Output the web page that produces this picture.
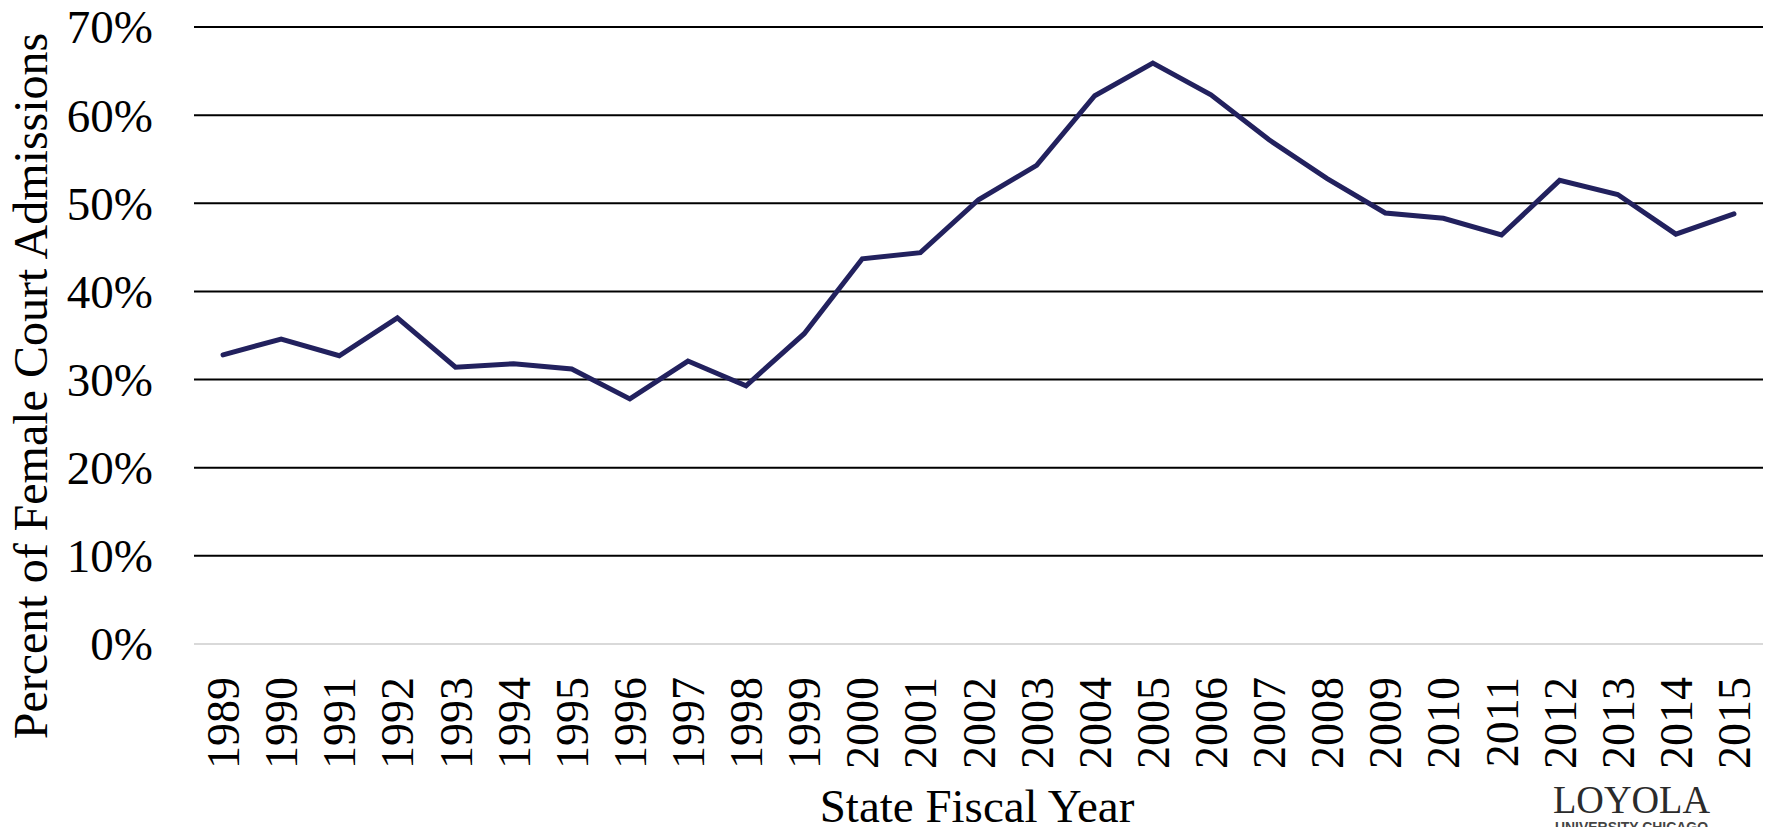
<!DOCTYPE html>
<html lang="en">
  <head>
    <meta charset="UTF-8" />
    <script src="https://cdn.jsdelivr.net/npm/d3@7"></script>
    <style>
      html, body { margin: 0; padding: 0; background: #fff; overflow: hidden; }
      text { font-family: "Liberation Serif", "Times New Roman", serif; fill: #000; }
    </style>
  </head>
  <body>
    <div id="fig"></div>
    <script>
      const width = 1769;
      const height = 827;

      // data
      const years = [1989, 1990, 1991, 1992, 1993, 1994, 1995, 1996, 1997, 1998, 1999, 2000, 2001, 2002,
        2003, 2004, 2005, 2006, 2007, 2008, 2009, 2010, 2011, 2012, 2013, 2014, 2015];
      const femaleShare = [0.328, 0.346, 0.327, 0.370, 0.314, 0.318, 0.312, 0.278, 0.321, 0.293, 0.352,
        0.437, 0.444, 0.504, 0.543, 0.622, 0.659, 0.623, 0.572, 0.528, 0.489, 0.483, 0.464, 0.526,
        0.510, 0.465, 0.488];
      const yTicks = [0, 0.1, 0.2, 0.3, 0.4, 0.5, 0.6, 0.7];

      const margins = { top: 27, bottom: 183, left: 194, right: 6 };

      const svg = d3
        .select("#fig")
        .append("svg")
        .attr("width", width)
        .attr("height", height);

      const x = d3
        .scaleBand()
        .domain(years)
        .range([margins.left, width - margins.right])
        .padding(0);

      const y = d3
        .scaleLinear()
        .domain([0, 0.7])
        .range([height - margins.bottom, margins.top]);

      // gridlines (0% is the light grey axis line)
      svg
        .append("g")
        .selectAll("line")
        .data(yTicks)
        .join("line")
        .attr("x1", x.range()[0])
        .attr("x2", x.range()[1])
        .attr("y1", (d) => y(d))
        .attr("y2", (d) => y(d))
        .attr("stroke", (d) => (d === 0 ? "#d9d9d9" : "#000"))
        .attr("stroke-width", 2);

      // y tick labels
      svg
        .append("g")
        .selectAll("text")
        .data(yTicks)
        .join("text")
        .attr("x", 153)
        .attr("y", (d) => y(d))
        .attr("dy", "0.35em")
        .attr("text-anchor", "end")
        .style("font-size", "47px")
        .text((d) => d3.format(".0%")(d));

      // x tick labels, rotated
      svg
        .append("g")
        .selectAll("text")
        .data(years)
        .join("text")
        .attr("transform", (d) => `translate(${x(d) + x.bandwidth() / 2},${y(0) + 33}) rotate(-90)`)
        .attr("dy", "0.35em")
        .attr("text-anchor", "end")
        .style("font-size", "46px")
        .text((d) => d);

      // series line
      svg
        .append("path")
        .datum(years.map((yr, i) => [yr, femaleShare[i]]))
        .attr("fill", "none")
        .attr("stroke", "#22215e")
        .attr("stroke-width", 5)
        .attr("stroke-linejoin", "miter")
        .attr("stroke-linecap", "round")
        .attr(
          "d",
          d3
            .line()
            .x((d) => x(d[0]) + x.bandwidth() / 2)
            .y((d) => y(d[1]))
        );

      // axis titles
      svg
        .append("text")
        .attr("transform", `translate(47,${386}) rotate(-90)`)
        .attr("text-anchor", "middle")
        .style("font-size", "48px")
        .text("Percent of Female Court Admissions");

      svg
        .append("text")
        .attr("x", 977)
        .attr("y", 822)
        .attr("text-anchor", "middle")
        .style("font-size", "47px")
        .text("State Fiscal Year");

      // logo
      svg
        .append("text")
        .attr("x", 1553)
        .attr("y", 813)
        .attr("textLength", 157)
        .attr("lengthAdjust", "spacingAndGlyphs")
        .style("font-size", "40px")
        .style("fill", "#2b2b2b")
        .text("LOYOLA");

      svg
        .append("text")
        .attr("x", 1555)
        .attr("y", 832)
        .attr("textLength", 153)
        .attr("lengthAdjust", "spacingAndGlyphs")
        .style("font-family", "'Liberation Sans', Arial, sans-serif")
        .style("font-size", "14px")
        .style("font-weight", "bold")
        .style("fill", "#444")
        .text("UNIVERSITY CHICAGO");
    </script>
  </body>
</html>
